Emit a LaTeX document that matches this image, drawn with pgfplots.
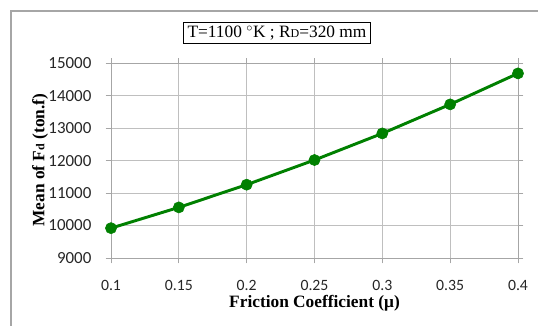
\documentclass[border=0pt]{standalone}
\usepackage{fontspec}
\setmainfont{Liberation Serif}
\newfontfamily\carlito{Carlito}
\usepackage{pgfplots}
\pgfplotsset{compat=1.18}
\definecolor{lgreen}{HTML}{008000}
\definecolor{gridc}{HTML}{BFBFBF}
\definecolor{axc}{HTML}{A6A6A6}
\newcommand{\tfont}{\carlito\fontsize{12.7}{14}\selectfont}
\newcommand{\xfont}{\carlito\fontsize{11.8}{14}\selectfont}
\begin{document}
\begin{tikzpicture}
\path[use as bounding box] (0,0) rectangle (403.5pt,243.75pt);
\draw[color=axc, line width=1.2pt] (8.25pt,-1pt) -- (8.25pt,235.5pt) -- (404.5pt,235.5pt);
\begin{axis}[
  at={(83.25pt,50.25pt)}, anchor=south west,
  scale only axis, width=305.25pt, height=146pt,
  xmin=0.1, xmax=0.4, ymin=9000, ymax=15000,
  scaled y ticks=false, scaled x ticks=false,
  xtick={0.1,0.15,0.2,0.25,0.3,0.35,0.4},
  xticklabels={{\xfont 0.1},{\xfont 0.15},{\xfont 0.2},{\xfont 0.25},{\xfont 0.3},{\xfont 0.35},{\xfont 0.4}},
  ytick={9000,10000,11000,12000,13000,14000,15000},
  yticklabels={{\tfont 9000},{\tfont 10000},{\tfont 11000},{\tfont 12000},{\tfont 13000},{\tfont 14000},{\tfont 15000}},
  grid=major, grid style={color=gridc, line width=0.6pt},
  axis line style={color=axc, line width=0.7pt},
  tick align=outside, major tick length=4pt,
  tick style={color=axc, line width=0.7pt},
  /pgf/number format/assume math mode=true,
  ticklabel style={color=black!85},
  xticklabel style={anchor=base, yshift=-20.5pt},
  yticklabel style={anchor=east, inner sep=0pt, xshift=-10.5pt},
  xlabel={Friction Coefficient (μ)},
  ylabel={Mean of F{\fontsize{9}{10}\selectfont d} (ton.f)},
  label style={font=\bfseries\fontsize{13}{15}\selectfont},
  xlabel style={at={(axis description cs:0.5,0)}, anchor=center, yshift=-33.75pt},
  ylabel style={at={(axis description cs:0,0.503)}, anchor=center, yshift=53.25pt},
]
\addplot[color=lgreen, line width=2.2pt, mark=*, mark size=4.2pt, mark options={fill=lgreen, draw=lgreen, line width=0.4pt}] coordinates {
(0.10,9920) (0.15,10560) (0.20,11260) (0.25,12020) (0.30,12840) (0.35,13735) (0.40,14690)
};
\end{axis}
\node[draw=black, line width=1pt, inner xsep=3pt, inner ysep=2.5pt, font=\fontsize{13}{15}\selectfont] at (207.75pt,219pt) {T=1100 $^{\circ}$K ; R{\fontsize{9}{10}\selectfont D}=320 mm};
\end{tikzpicture}
\end{document}
